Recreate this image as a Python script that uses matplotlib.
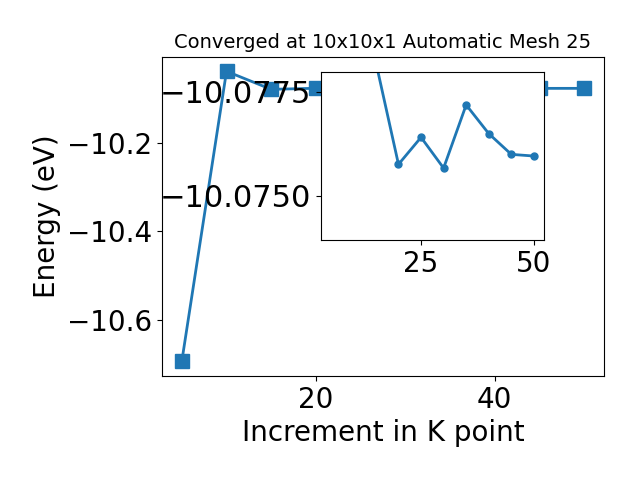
import matplotlib
matplotlib.use("Agg")
import matplotlib.pyplot as plt

# k-point increments and total energies (eV)
kpoints = [5, 10, 15, 20, 25, 30, 35, 40, 45, 50]
energy = [-10.6948, -10.0373, -10.0782, -10.07575, -10.0764, -10.07566,
          -10.07718, -10.07649, -10.07599, -10.07595]

main_xticks = [20, 40]
inset_ylim = (-10.07393, -10.07796)
inset_yticks = [-10.0775, -10.0750]

fig = plt.figure(figsize=(6.4, 4.8), dpi=100)
ax = fig.add_axes([0.2526, 0.2167, 0.6917, 0.665])
ax.plot(kpoints, energy, marker='s', markersize=10, linewidth=2)
ax.set_title("Converged at 10x10x1 Automatic Mesh 25", fontsize=14)
ax.set_xlabel("Increment in K point", fontsize=20)
ax.set_ylabel("Energy (eV)", fontsize=20)
ax.set_xticks(main_xticks)
ax.tick_params(labelsize=20)

# zoomed view of the converged region
ax2 = fig.add_axes([0.501, 0.5, 0.349, 0.349])
ax2.plot(kpoints[2:], energy[2:], marker='o', markersize=5, linewidth=2)
ax2.set_xlim(ax.get_xlim())
ax2.set_ylim(*inset_ylim)
ax2.set_yticks(inset_yticks)
ax2.ticklabel_format(axis='y', useOffset=False)
ax2.tick_params(axis='x', labelsize=20)
ax2.tick_params(axis='y', labelsize=22)

plt.savefig("out.png")
